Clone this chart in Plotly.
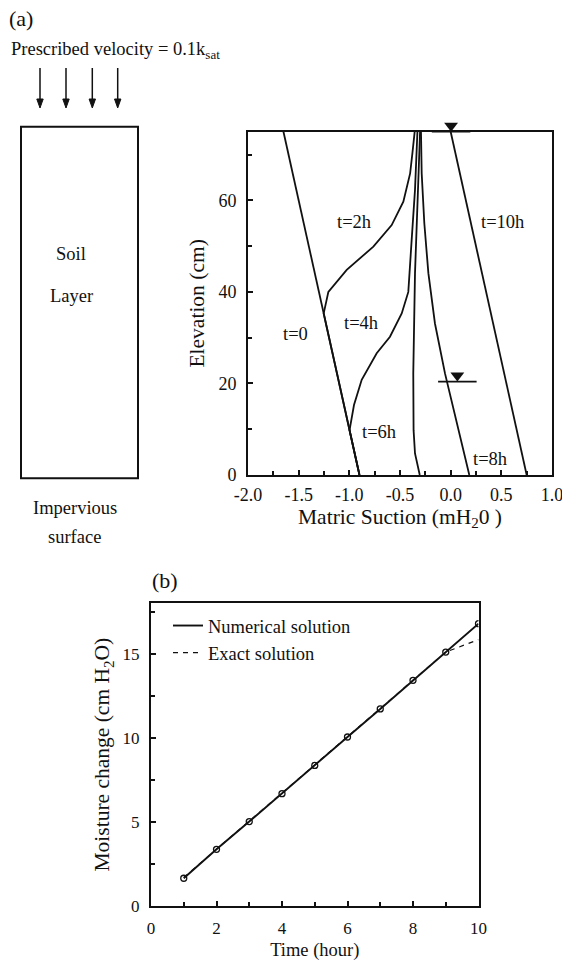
import plotly.graph_objects as go

W, H = 562, 964
FONT = "Liberation Serif"
INK = "#111111"

# ---------------- (a) matric suction profiles ----------------
# elevation (cm) and matric suction (m of water) for each time
elev_t0 = [0, 75]
suct_t0 = [-0.90, -1.65]

elev_t2 = [0, 35.3, 40.0, 44.8, 49.9, 54.6, 59.7, 65.9, 70.2, 75]
suct_t2 = [-0.90, -1.253, -1.207, -1.026, -0.763, -0.582, -0.467, -0.400, -0.378, -0.355]

elev_t4 = [0, 9.8, 15.3, 20.8, 26.6, 30.2, 35.3, 40.0, 51.3, 62.3, 75]
suct_t4 = [-0.90, -0.998, -0.954, -0.878, -0.730, -0.599, -0.483, -0.418, -0.385, -0.352, -0.328]

elev_t6 = [0, 4.7, 9.8, 22.2, 44.1, 58.6, 75]
suct_t6 = [-0.305, -0.352, -0.366, -0.369, -0.352, -0.329, -0.302]

elev_t8 = [0, 11.3, 22.2, 33.1, 44.1, 55.0, 65.9, 75]
suct_t8 = [0.184, 0.060, -0.056, -0.155, -0.220, -0.260, -0.286, -0.293]

elev_t10 = [0, 75]
suct_t10 = [0.75, 0.0]

profile_names = ["t=0", "t=2h", "t=4h", "t=6h", "t=8h", "t=10h"]
label_suct = [-1.53, -0.956, -0.88, -0.705, 0.389, 0.515]
label_elev = [30.8, 55.2, 33.3, 9.3, 3.4, 55.2]

# water-table symbols: suction position and level
wt_suct = [0.004, 0.066]
wt_level = [75, 20.4]
wt_halfwidth = 0.19

suct_ticks = [-2.0, -1.5, -1.0, -0.5, 0.0, 0.5, 1.0]
suct_ticktext = ["-2.0", "-1.5", "-1.0", "-0.5", "0.0", "0.5", "1.0"]
suct_minor = [-1.75, -1.25, -0.75, -0.25, 0.25, 0.75]
elev_ticks = [0, 20, 40, 60]
elev_minor = [10, 30, 50, 70]

# ---------------- (b) cumulative moisture change ----------------
hours = [1, 2, 3, 4, 5, 6, 7, 8, 9, 10]
numerical = [1.65, 3.37, 5.02, 6.68, 8.36, 10.05, 11.72, 13.42, 15.10, 16.79]
exact = [1.70, 3.40, 5.05, 6.72, 8.40, 10.08, 11.75, 13.44, 15.10, 15.84]

time_ticks = [0, 2, 4, 6, 8, 10]
time_minor = [1, 3, 5, 7, 9]
moist_ticks = [0, 5, 10, 15]
moist_minor = [2.5, 7.5, 12.5, 17.5]


def px(x):
    return x / W


def py(y):
    return 1 - y / H


# plot-area edges of panel (a), in page pixels
A_LEFT, A_RIGHT, A_BOTTOM, A_TOP = 248, 552, 475, 131.7
ELEV_MAX = 75
elev_per_px = ELEV_MAX / (A_BOTTOM - A_TOP)
# helper axis for the water-table symbols, reaching a little above the frame
SYM_TOP = 112
sym_range_top = (A_BOTTOM - SYM_TOP) * elev_per_px

fig = go.Figure()

line_style = dict(color=INK, width=1.8)
profiles = [
    (suct_t0, elev_t0), (suct_t2, elev_t2), (suct_t4, elev_t4),
    (suct_t6, elev_t6), (suct_t8, elev_t8), (suct_t10, elev_t10),
]
for (sx, ey), name in zip(profiles, profile_names):
    fig.add_trace(go.Scatter(x=sx, y=ey, mode="lines", line=line_style,
                             name=name, showlegend=False,
                             xaxis="x", yaxis="y"))

# water-table bars and triangles
for s, lv in zip(wt_suct, wt_level):
    fig.add_trace(go.Scatter(x=[s - wt_halfwidth, s + wt_halfwidth], y=[lv, lv],
                             mode="lines", line=dict(color=INK, width=1.8),
                             showlegend=False, cliponaxis=False,
                             xaxis="x", yaxis="y"))
tri_size = 12
fig.add_trace(go.Scatter(
    x=wt_suct, y=[lv + (tri_size / 2) * elev_per_px for lv in wt_level],
    mode="markers",
    marker=dict(symbol="triangle-down", size=tri_size, color=INK, line=dict(width=0)),
    showlegend=False, cliponaxis=False, xaxis="x", yaxis="y3"))

for name, sx, ey in zip(profile_names, label_suct, label_elev):
    fig.add_annotation(x=sx, y=ey, xref="x", yref="y", text=name, showarrow=False,
                       font=dict(family=FONT, size=18.5, color=INK))

# panel (b) series
fig.add_trace(go.Scatter(x=hours, y=exact, mode="lines",
                         line=dict(color=INK, width=1.2, dash="5px,5px"),
                         name="Exact solution", legendrank=2,
                         xaxis="x2", yaxis="y2"))
fig.add_trace(go.Scatter(x=hours, y=numerical, mode="lines",
                         line=dict(color=INK, width=1.9),
                         name="Numerical solution", legendrank=1,
                         xaxis="x2", yaxis="y2"))
fig.add_trace(go.Scatter(x=hours, y=numerical, mode="markers",
                         marker=dict(symbol="circle-open", size=6,
                                     color=INK, line=dict(width=1.3)),
                         showlegend=False, xaxis="x2", yaxis="y2"))

axis_common = dict(
    showline=True, linecolor=INK, linewidth=2, mirror=True,
    ticks="inside", tickcolor=INK, tickwidth=1.5, ticklen=5,
    showgrid=False, zeroline=False, automargin=False,
    ticklabeloverflow="allow",
)

fig.update_layout(
    template="none",
    width=W, height=H,
    margin=dict(l=0, r=0, t=0, b=0, pad=0, autoexpand=False),
    paper_bgcolor="white", plot_bgcolor="rgba(0,0,0,0)",
    font=dict(family=FONT, color=INK, size=18),
    xaxis=dict(
        **axis_common, domain=[px(A_LEFT), px(A_RIGHT)], range=[-2, 1],
        anchor="y", tickmode="array", tickvals=suct_ticks, ticktext=suct_ticktext,
        minor=dict(ticks="inside", tickmode="array", tickvals=suct_minor,
                   ticklen=4, tickcolor=INK, tickwidth=1.5, showgrid=False),
        tickfont=dict(family=FONT, size=18, color=INK), ticklabelstandoff=2,
        title=dict(text="Matric Suction (mH<sub>2</sub>0 )", standoff=4,
                   font=dict(family=FONT, size=21.5, color=INK)),
    ),
    yaxis=dict(
        **axis_common, domain=[py(A_BOTTOM), py(A_TOP)], range=[0, ELEV_MAX],
        anchor="x", tickmode="array", tickvals=elev_ticks,
        minor=dict(ticks="inside", tickmode="array", tickvals=elev_minor,
                   ticklen=4, tickcolor=INK, tickwidth=1.5, showgrid=False),
        tickfont=dict(family=FONT, size=18, color=INK), ticklabelstandoff=6,
        title=dict(text="Elevation (cm)", standoff=8,
                   font=dict(family=FONT, size=21.5, color=INK)),
    ),
    yaxis3=dict(
        domain=[py(A_BOTTOM), py(SYM_TOP)], range=[0, sym_range_top],
        anchor="x", visible=False, showgrid=False, zeroline=False,
        automargin=False,
    ),
    xaxis2=dict(
        **axis_common, domain=[px(151), px(478.5)], range=[0, 10],
        anchor="y2", tickmode="array", tickvals=time_ticks,
        minor=dict(ticks="inside", tickmode="array", tickvals=time_minor,
                   ticklen=4, tickcolor=INK, tickwidth=1.5, showgrid=False),
        tickfont=dict(family=FONT, size=17, color=INK), ticklabelstandoff=6,
        title=dict(text="Time (hour)", standoff=6,
                   font=dict(family=FONT, size=18.5, color=INK)),
    ),
    yaxis2=dict(
        **axis_common, domain=[py(906), py(603.3)], range=[0, 18],
        anchor="x2", tickmode="array", tickvals=moist_ticks,
        minor=dict(ticks="inside", tickmode="array", tickvals=moist_minor,
                   ticklen=4, tickcolor=INK, tickwidth=1.5, showgrid=False),
        tickfont=dict(family=FONT, size=17, color=INK), ticklabelstandoff=6,
        title=dict(text="Moisture change (cm H<sub>2</sub>O)", standoff=7,
                   font=dict(family=FONT, size=21.5, color=INK)),
    ),
    legend=dict(
        x=px(168), y=py(607), xanchor="left", yanchor="top",
        bgcolor="rgba(0,0,0,0)", borderwidth=0,
        font=dict(family=FONT, size=18.5, color=INK),
        traceorder="normal", tracegroupgap=0,
    ),
    showlegend=True,
)

# ---------------- schematic of the soil column ----------------
box_line = dict(color=INK, width=2)
fig.add_shape(type="rect", xref="paper", yref="paper",
              x0=px(21), x1=px(138), y0=py(478.3), y1=py(126.7), line=box_line)

# downward arrows for the prescribed inflow
ARROW_TOP, ARROW_TIP, HEAD_LEN, HEAD_HALF = 68, 108, 9, 3.2
for ax_x in [40, 66, 92.3, 117.7]:
    fig.add_shape(type="line", xref="paper", yref="paper",
                  x0=px(ax_x), x1=px(ax_x), y0=py(ARROW_TOP), y1=py(ARROW_TIP - HEAD_LEN + 1),
                  line=dict(color=INK, width=1.5))
    head = (f"M {px(ax_x - HEAD_HALF)} {py(ARROW_TIP - HEAD_LEN)} "
            f"L {px(ax_x + HEAD_HALF)} {py(ARROW_TIP - HEAD_LEN)} "
            f"L {px(ax_x)} {py(ARROW_TIP)} Z")
    fig.add_shape(type="path", xref="paper", yref="paper", path=head,
                  fillcolor=INK, line=dict(color=INK, width=1))

texts = [
    ("(a)", 6.5, 18.5, 22, "left"),
    ("Prescribed velocity = 0.1k<sub>sat</sub>", 9, 50, 18.5, "left"),
    ("Soil", 71, 254, 18.5, "center"),
    ("Layer", 71, 296, 18.5, "center"),
    ("Impervious", 75, 508, 18.5, "center"),
    ("surface", 75, 537, 18.5, "center"),
    ("(b)", 150, 580, 22, "left"),
]
for txt, tx, ty, fs, anchor in texts:
    fig.add_annotation(x=px(tx), y=py(ty), xref="paper", yref="paper",
                       text=txt, showarrow=False, xanchor=anchor, yanchor="middle",
                       font=dict(family=FONT, size=fs, color=INK))

fig.write_html("out.html")
